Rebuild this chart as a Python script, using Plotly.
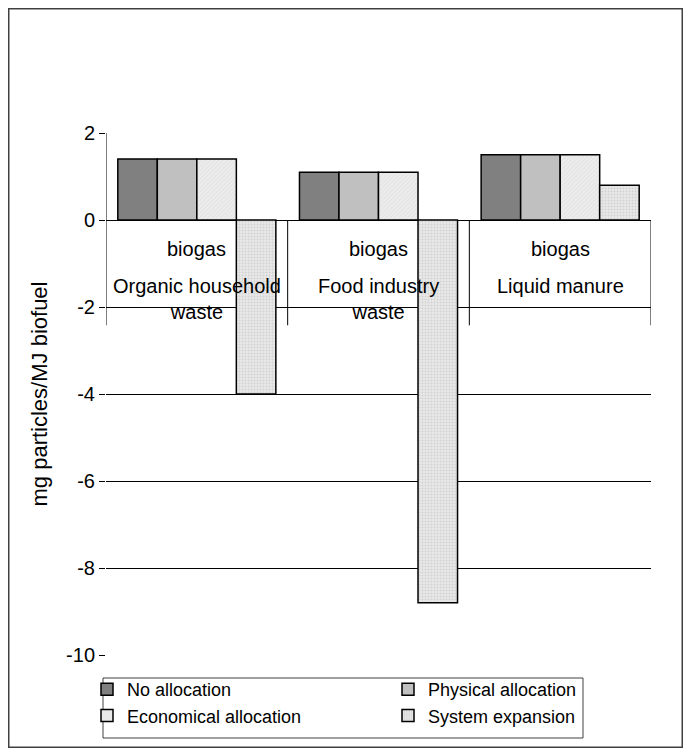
import plotly.graph_objects as go

# ---- data ----
inner_labels = ["biogas", "biogas", "biogas"]
outer_labels = ["Organic household<br>waste", "Food industry<br>waste", "Liquid manure"]
series_names = ["No allocation", "Physical allocation", "Economical allocation", "System expansion"]
no_allocation = [1.4, 1.1, 1.5]
physical_allocation = [1.4, 1.1, 1.5]
economical_allocation = [1.4, 1.1, 1.5]
system_expansion = [-4.0, -8.8, 0.8]
y_ticks = [2, 0, -2, -4, -6, -8, -10]
y_title = "mg particles/MJ biofuel"

# ---- layout constants (figure pixels; page adds an 8px body margin) ----
W, H = 675, 740
L, R, T, B = 98, 643, 125, 647
FONT = "Liberation Sans, Arial, sans-serif"
FS = 20

def px_x(p):
    return (p - L) / (R - L)

def px_y(p):
    return (B - p) / (B - T)

x = list(range(len(inner_labels)))
series_values = [no_allocation, physical_allocation, economical_allocation, system_expansion]

styles = [
    dict(color="#808080"),
    dict(color="#c0c0c0"),
    dict(color="#e4e4e4", pattern=dict(shape="/", fgcolor="#c4c4c4", bgcolor="#ececec", size=3, solidity=0.2)),
    dict(color="#dcdcdc", pattern=dict(shape=".", fgcolor="#b8b8b8", bgcolor="#e8e8e8", size=3, solidity=0.3)),
]
legend_widths = [256, 170, 256, 170]

fig = go.Figure()
for name, vals, st, lw in zip(series_names, series_values, styles, legend_widths):
    fig.add_trace(go.Bar(
        x=x, y=vals, name=name, legendwidth=lw,
        marker=dict(line=dict(color="black", width=1.5), **st),
    ))

# category label area lines (multi-level axis look)
label_bottom = -2.42
shapes = [
    dict(type="line", xref="x", yref="y", x0=-0.5, x1=-0.5, y0=max(y_ticks), y1=label_bottom,
         line=dict(color="black", width=1)),
]
for i in range(len(x)):
    shapes.append(dict(type="line", xref="x", yref="y", x0=i + 0.5, x1=i + 0.5, y0=0, y1=label_bottom,
                       line=dict(color="black", width=1)))
# outer chart border
shapes.append(dict(type="rect", xref="paper", yref="paper",
                   x0=px_x(0.75), x1=px_x(W - 0.75), y0=px_y(H - 0.75), y1=px_y(0.75),
                   line=dict(color="#404040", width=1.5), layer="below"))
# legend frame
shapes.append(dict(type="rect", xref="paper", yref="paper",
                   x0=px_x(95), x1=px_x(575), y0=px_y(730), y1=px_y(670),
                   line=dict(color="#404040", width=1), layer="below"))

annotations = []
for i, (inn, out) in enumerate(zip(inner_labels, outer_labels)):
    annotations.append(dict(x=i, y=-0.667, xref="x", yref="y", text=inn, showarrow=False,
                            font=dict(family=FONT, size=FS, color="black"), yanchor="middle"))
    annotations.append(dict(x=i, y=-1.22, xref="x", yref="y", text=out, showarrow=False,
                            font=dict(family=FONT, size=FS, color="black"), yanchor="top"))

fig.update_layout(
    width=W, height=H,
    margin=dict(l=L, r=W - R, t=T, b=H - B, pad=0),
    paper_bgcolor="white", plot_bgcolor="white",
    barmode="group", bargap=0.13, bargroupgap=0,
    font=dict(family=FONT, size=FS, color="black"),
    xaxis=dict(range=[-0.5, 2.5], showticklabels=False, showgrid=False, zeroline=False,
               showline=False, ticks=""),
    yaxis=dict(range=[min(y_ticks), max(y_ticks)], tickvals=y_ticks, ticktext=[str(v) for v in y_ticks],
               showgrid=True, gridcolor="black", gridwidth=1,
               zeroline=True, zerolinecolor="black", zerolinewidth=1,
               showline=False, ticks="outside", ticklen=6, tickcolor="black",
               tickfont=dict(size=FS),
               title=dict(text=y_title, font=dict(size=22), standoff=12)),
    legend=dict(orientation="h", x=px_x(79), xanchor="left", y=px_y(663), yanchor="top",
                entrywidth=256, entrywidthmode="pixels", traceorder="normal",
                bgcolor="rgba(0,0,0,0)", borderwidth=0, font=dict(size=18)),
    shapes=shapes, annotations=annotations,
)

fig.write_html("out.html")
